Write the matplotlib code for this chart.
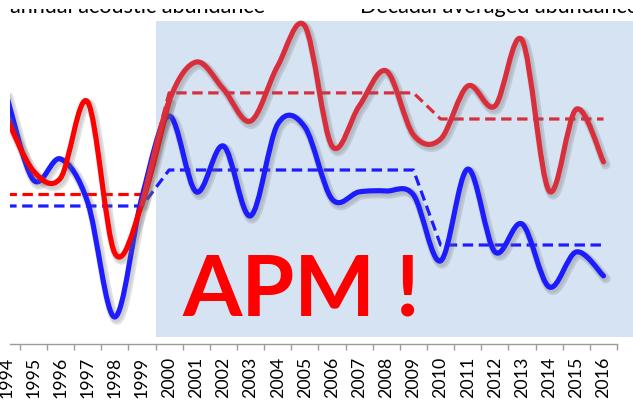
import matplotlib
matplotlib.use("Agg")
import matplotlib.pyplot as plt
import matplotlib.patheffects as pe
from matplotlib.path import Path
from matplotlib.patches import PathPatch, Rectangle
from matplotlib.ticker import FixedLocator
import numpy as np

# ---------------- data ----------------
years = list(range(1994, 2017))
tick_labels = [str(y) for y in years]

# annual acoustic abundance (arbitrary index units)
blue_annual = [83.3, 54.7, 61.7, 47.3, 9.0, 49.0, 76.0, 50.7, 66.0, 42.7, 73.3, 72.3,
               48.3, 50.7, 51.0, 49.7, 27.7, 58.3, 30.7, 40.0, 19.0, 30.7, 22.7]
red_early_years = list(range(1994, 2001))
red_early = [75.7, 57.7, 55.3, 80.7, 30.3, 46.7, 81.0]
red_late_years = list(range(1999, 2017))
red_late = [46.7, 81.0, 94.0, 85.0, 74.3, 92.7, 106.0, 66.0, 79.3, 91.0, 69.7,
            68.3, 86.0, 79.3, 101.3, 51.0, 78.3, 60.7]

# decadal averaged abundance
blue_decadal = [46.0] * 6 + [58.0] * 10 + [33.0] * 7
red_dec_early_years = list(range(1994, 2000))
red_dec_early = [50.0] * 6
red_dec_late_years = list(range(1999, 2017))
red_dec_late = [50.0] + [83.7] * 10 + [75.0] * 7

# ---------------- style ----------------
W, H, DPI = 633, 402, 100
BLUE = "#1C1CFF"
RED = "#FF0000"
CRIMSON = "#D92E3C"
SHADE = "#D5E3F2"
AXGRAY = "#9C9C9C"
FONT = "Lato"

plt.rcParams["lines.scale_dashes"] = False
fig = plt.figure(figsize=(W / DPI, H / DPI), dpi=DPI)
fig.patch.set_facecolor("white")

# axes covers the full image width; bottom axis line at y=345 px
ax_bottom_px = 345
ax = fig.add_axes([0, (H - ax_bottom_px) / H, 1, ax_bottom_px / H])

x0_px, step_px = 6.2, 27.15
idx = {y: i for i, y in enumerate(years)}
ax.set_xlim(-x0_px / step_px, (W - x0_px) / step_px)
ax.set_ylim(0, ax_bottom_px / 3.0)
ax.set_facecolor("none")

# shaded region (period 2000 onwards)
shade = Rectangle((idx[2000] - 0.5, (ax_bottom_px - 338) / 3.0),
                  30, (338 - 22) / 3.0, facecolor=SHADE, edgecolor="none", zorder=0)
ax.add_patch(shade)

clip = Rectangle((10 / W, 0), 1, 1.2, transform=ax.transAxes, facecolor="none", edgecolor="none")
ax.add_patch(clip)


def smooth_path(xs, ys):
    n = len(xs)
    verts = [(xs[0], ys[0])]
    codes = [Path.MOVETO]
    for i in range(n - 1):
        a = i - 1 if i > 0 else i
        d = i + 2 if i + 2 < n else i + 1
        c1 = (xs[i] + (xs[i + 1] - xs[a]) / 6.0, ys[i] + (ys[i + 1] - ys[a]) / 6.0)
        c2 = (xs[i + 1] - (xs[d] - xs[i]) / 6.0, ys[i + 1] - (ys[d] - ys[i]) / 6.0)
        verts += [c1, c2, (xs[i + 1], ys[i + 1])]
        codes += [Path.CURVE4] * 3
    return Path(verts, codes)


shadow = [pe.SimpleLineShadow(offset=(1.6, -2.0), shadow_color="#6a6a6a", alpha=0.2, linewidth=7),
          pe.SimpleLineShadow(offset=(1.2, -1.5), shadow_color="#6a6a6a", alpha=0.15, linewidth=5),
          pe.Normal()]


def smooth_line(yrs, vals, color, z):
    xs = [idx[y] for y in yrs]
    p = PathPatch(smooth_path(xs, vals), fill=False, edgecolor=color, lw=3.7,
                  capstyle="round", joinstyle="round", zorder=z, path_effects=shadow)
    ax.add_patch(p)
    p.set_clip_path(clip)


def dashed_line(yrs, vals, color, z):
    xs = [idx[y] for y in yrs]
    ln, = ax.plot(xs, vals, color=color, lw=2.3, linestyle=(0, (7.5, 4.0)), zorder=z)
    ln.set_clip_path(clip)


dashed_line(years, blue_decadal, BLUE, 2)
dashed_line(red_dec_early_years, red_dec_early, RED, 2)
dashed_line(red_dec_late_years, red_dec_late, CRIMSON, 2.1)
smooth_line(years, blue_annual, BLUE, 3)
smooth_line(red_early_years, red_early, RED, 4)
smooth_line(red_late_years, red_late, CRIMSON, 5)

# axes decoration
for s in ["top", "right", "left"]:
    ax.spines[s].set_visible(False)
ax.spines["bottom"].set_color(AXGRAY)
ax.spines["bottom"].set_linewidth(1.0)
ax.spines["bottom"].set_bounds((10 - x0_px) / step_px, len(years) - 0.5)
ax.set_yticks([])
ax.set_xticks(range(len(years)))
ax.set_xticklabels(tick_labels, rotation=90, fontsize=12.8, family=FONT, color="black")
ax.xaxis.set_minor_locator(FixedLocator(np.arange(0.5, len(years), 1.0)))
ax.tick_params(axis="x", which="major", length=0, pad=8.5)
ax.tick_params(axis="x", which="minor", length=4, width=1.0, color=AXGRAY)
for lab in ax.get_xticklabels():
    lab.set_va("top")


# texts
def fit_text(x_px, y_px, s, width_px, **kw):
    t = fig.text(x_px / W, 1 - y_px / H, s, **kw)
    fig.canvas.draw()
    bb = t.get_window_extent()
    t.set_fontsize(t.get_fontsize() * width_px / bb.width)
    return t


t1 = fit_text(10, 12.8, "annual acoustic abundance", 257, fontsize=16, family=FONT,
              color="black", ha="left", va="baseline")
fig.text(360 / W, 1 - 12.8 / H, "Decadal averaged abundance", fontsize=t1.get_fontsize(),
         family=FONT, color="black", ha="left", va="baseline")
# the legend line of the source image is cut: only its lowest strip shows
fig.add_artist(Rectangle((0, 1 - 9.5 / H), 1, 9.5 / H, transform=fig.transFigure,
                         facecolor="white", edgecolor="none", zorder=20))

fit_text(182, 316, "APM !", 238, fontsize=60, family=FONT, weight="bold",
         color="#FF0000", ha="left", va="baseline", zorder=6)

fig.savefig("out.png", dpi=DPI)
